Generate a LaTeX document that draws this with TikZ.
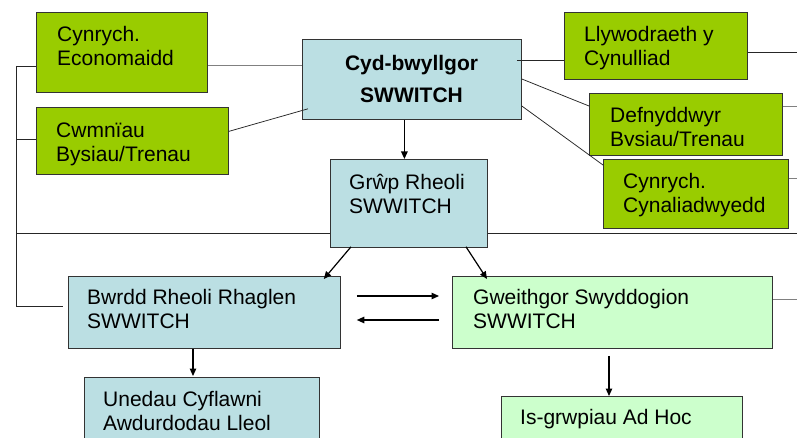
\documentclass[tikz,border=0pt]{standalone}
\usepackage{fontspec}
\setmainfont{Liberation Sans}
\usetikzlibrary{arrows.meta,calc}
\definecolor{grn}{HTML}{99CC00}
\definecolor{lblue}{HTML}{BBDFE3}
\definecolor{lgrn}{HTML}{CCFFCC}
\definecolor{bord}{HTML}{333333}
\newcommand\fs{\fontsize{21}{24.3}\selectfont}
\newcommand\fsb{\fontsize{21}{32}\selectfont\bfseries}
\newcommand\st{\rule{0pt}{17pt}}
\tikzset{
  box/.style={draw=bord, line width=0.8pt, inner sep=0pt, anchor=north west},
  gbox/.style={box, fill=grn},
  bbox/.style={box, fill=lblue},
  lbox/.style={box, fill=lgrn},
  txt/.style={inner sep=0pt, anchor=north west, align=left, font=\fs},
  conn/.style={draw=black!85, line width=0.75pt},
  gconn/.style={draw=black!50, line width=1pt},
  arr/.style={draw=black, line width=1.2pt, -{Triangle[length=7.5pt,width=6.5pt]}}
}
\begin{document}
\begin{tikzpicture}[x=1pt,y=-1pt]
\clip (0,0) rectangle (797,438);
\fill[white] (0,0) rectangle (797,438);
% boxes
\node[gbox, minimum width=171, minimum height=80] (econ) at (36,12) {};
\node[gbox, minimum width=192, minimum height=67] (cwm) at (36,107) {};
\node[bbox, minimum width=219, minimum height=80] (cyd) at (302,39) {};
\node[bbox, minimum width=157, minimum height=88] (grp) at (330,159) {};
\node[gbox, minimum width=183, minimum height=67] (llyw) at (564,12) {};
\node[gbox, minimum width=193, minimum height=62] (defn) at (589,93) {};
\node[gbox, minimum width=185, minimum height=69] (cyn) at (603,159) {};
\node[bbox, minimum width=272, minimum height=72] (bwrdd) at (68,276) {};
\node[lbox, minimum width=320, minimum height=72] (gweith) at (452,276) {};
\node[bbox, minimum width=235, minimum height=80] (uned) at (84,377) {};
\node[lbox, minimum width=241, minimum height=60] (isg) at (501,396) {};
% texts
\node[txt] (econT) at (57,24) {\st Cynrych.\\Economaidd};
\node[txt] (cwmT) at (56,120) {\st Cwmnïau\\Bysiau/Trenau};
\node[inner sep=0pt, anchor=north, align=center, font=\fsb] (cydT) at (411.5,53) {\st Cyd-bwyllgor\\SWWITCH};
\node[txt] (grpT) at (349,172) {\st Grŵp Rheoli\\SWWITCH};
\node[txt] (llywT) at (584,24) {\st Llywodraeth y\\Cynulliad};
\begin{scope}
\clip (589,93) rectangle (782,146);
\node[txt] (defnT) at (610,105) {\st Defnyddwyr\\Bysiau/Trenau};
\end{scope}
\node[txt] (cynT) at (623,171) {\st Cynrych.\\Cynaliadwyedd};
\node[txt] (bwrdT) at (87,287) {\st Bwrdd Rheoli Rhaglen\\SWWITCH};
\node[txt] (unedT) at (103,389) {\st Unedau Cyflawni\\Awdurdodau Lleol};
\node[txt] (gweiT) at (473,287) {\st Gweithgor Swyddogion\\SWWITCH};
\node[txt] (isgT) at (520,407) {\st Is-grwpiau Ad Hoc};
% left bus
\coordinate (L1) at (16,66);
\coordinate (L2) at (16,139);
\coordinate (L3) at (16,233);
\coordinate (L4) at (16,306);
\coordinate (Lend) at (63,306);
\draw[conn] (L1) -- (L4);
\draw[conn] (L1) -- (L1 -| econ.west);
\draw[conn] (L2) -- (L2 -| cwm.west);
\draw[conn] (L3) -- (L3 -| grp.west);
\draw[conn] (L4) -- (Lend);
% links to joint committee
\draw[gconn] (L1 -| econ.east) -- (L1 -| cyd.west);
\draw[conn] ($(cwm.east)+(0,-9.5)$) -- ($(cyd.south west)+(6,-11)$);
\coordinate (C1) at ($(cyd.north east)+(-5,21)$);
\draw[conn] (C1) -- (C1 -| llyw.west);
\draw[conn] ($(cyd.north east)+(0,40)$) -- ($(defn.north west)+(0,13)$);
\draw[conn] ($(cyd.north east)+(0,67)$) -- ($(cyn.north west)+(0,6)$);
% right edge lines
\coordinate (R1) at (797,52);
\coordinate (R2) at (797,107);
\coordinate (R3) at (797,179);
\coordinate (R4) at (797,233);
\coordinate (R5) at (797,299);
\draw[conn] (R1 -| llyw.east) -- (R1);
\draw[gconn] (R2 -| defn.east) -- (R2);
\draw[gconn] (R3 -| cyn.east) -- (R3);
\draw[conn] (R4 -| grp.east) -- (R4);
\draw[gconn] (R5 -| gweith.east) -- (R5);
% arrows
\coordinate (A1) at ($(cyd.south)+(-7.5,0)$);
\draw[arr] (A1) -- (A1 |- grp.north);
\draw[arr] ($(grp.south west)+(21,-1)$) -- ($(bwrdd.north east)+(-17,3)$);
\draw[arr] ($(grp.south west)+(136,-1)$) -- ($(gweith.north west)+(35,3)$);
\draw[arr] ($(bwrdd.north east)+(16,20)$) -- ($(gweith.north west)+(-13,20)$);
\draw[arr] ($(gweith.north west)+(-13,44)$) -- ($(bwrdd.north east)+(16,44)$);
\coordinate (A2) at ($(bwrdd.south west)+(125,0)$);
\draw[arr, shorten >=1pt] (A2) -- (A2 |- uned.north);
\coordinate (A3) at ($(gweith.south west)+(157,7)$);
\draw[arr] (A3) -- (A3 |- isg.north);
\end{tikzpicture}
\end{document}
